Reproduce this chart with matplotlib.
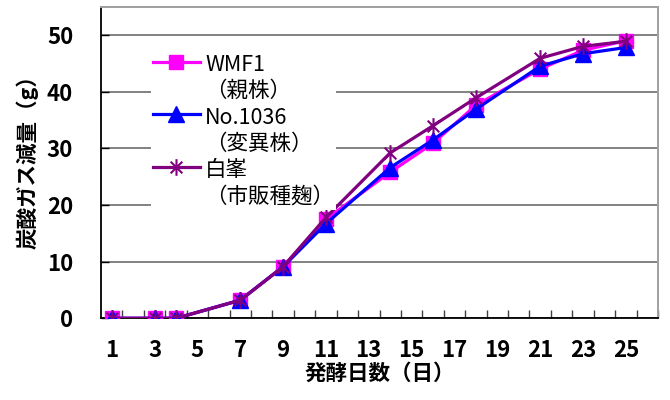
import matplotlib
matplotlib.use("Agg")
import matplotlib.pyplot as plt
from matplotlib.path import Path
from matplotlib.ticker import FixedLocator

plt.rcParams['font.family'] = ['Noto Sans CJK JP', 'DejaVu Sans']

# Fermentation days and CO2 weight loss (g) for each strain
days = [1, 3, 4, 7, 9, 11, 14, 16, 18, 21, 23, 25]
wmf1 = [0, 0, 0, 3.2, 9.1, 17.5, 25.8, 30.9, 37.6, 44.0, 47.3, 49.0]
no1036 = [0, 0, 0, 3.2, 9.1, 16.7, 26.6, 31.5, 36.9, 44.5, 46.7, 47.8]
hakuho = [0, 0, 0, 3.2, 9.1, 17.8, 29.2, 34.0, 38.9, 45.9, 48.0, 48.9]

labels = ["WMF1\n（親株）", "No.1036\n（変異株）", "白峯\n（市販種麹）"]
xtick_days = list(range(1, 26, 2))
yticks = [0, 10, 20, 30, 40, 50]

# asterisk-style marker: an X with a vertical bar
star = Path(
    [(-0.7, -0.7), (0.7, 0.7), (-0.7, 0.7), (0.7, -0.7), (0, -1), (0, 1)],
    [Path.MOVETO, Path.LINETO, Path.MOVETO, Path.LINETO, Path.MOVETO, Path.LINETO],
)

fig = plt.figure(figsize=(6.7, 4.0), dpi=100)
ax = fig.add_axes([101 / 670, 1 - 318.3 / 400, 557 / 670, 311.6 / 400])

ax.plot(days, wmf1, color='#FF00FF', lw=2.3, marker='s', ms=10.5,
        mec='#FF00FF', mfc='#FF00FF', label=labels[0], zorder=3)
ax.plot(days, no1036, color='#0000FF', lw=2.3, marker='^', ms=11,
        mec='#0000FF', mfc='#0000FF', label=labels[1], zorder=4)
ax.plot(days, hakuho, color='#800080', lw=2.3, marker=star, ms=12,
        mec='#800080', mew=1.5, label=labels[2], zorder=5)

ax.set_xlim(0.5, 26.5)
ax.set_ylim(0, 55)

ax.xaxis.set_major_locator(FixedLocator(xtick_days))
ax.xaxis.set_minor_locator(FixedLocator([d + 0.5 for d in range(1, 27)]))
ax.set_yticks(yticks)

ax.tick_params(axis='x', which='major', length=0, pad=15,
               labelsize=16)
ax.tick_params(axis='x', which='minor', direction='in', length=6,
               width=1.0, color='#404040')
ax.tick_params(axis='y', which='major', direction='in', length=6,
               width=1.0, pad=20, labelsize=16)
for lab in ax.get_xticklabels() + ax.get_yticklabels():
    lab.set_fontweight('bold')

ax.yaxis.grid(True, color='#606060', lw=1.1)
ax.set_axisbelow(True)

ax.spines['left'].set_color('black')
ax.spines['left'].set_linewidth(1.3)
ax.spines['bottom'].set_color('black')
ax.spines['bottom'].set_linewidth(1.3)
ax.spines['top'].set_color('#A0A0A0')
ax.spines['top'].set_linewidth(1.4)
ax.spines['right'].set_color('#A0A0A0')
ax.spines['right'].set_linewidth(1.4)

ax.set_xlabel('発酵日数（日）', fontsize=15.5, fontweight='bold', va='center')
ax.xaxis.set_label_coords(0.5, -0.177)
ax.set_ylabel('炭酸ガス減量（g）', fontsize=15.5, fontweight='bold', va='center')
ax.yaxis.set_label_coords(-0.132, 0.52)

leg = ax.legend(loc='upper left', bbox_to_anchor=(0.09, 0.855),
                frameon=True, fancybox=False, framealpha=1,
                facecolor='white', edgecolor='none',
                fontsize=15.5, handlelength=2.15, handletextpad=0.25,
                labelspacing=0.2, borderpad=0.1, borderaxespad=0)
leg.set_zorder(6)
for t in leg.get_texts():
    t.set_multialignment('left')
    t.set_linespacing(1.25)
# put each handle level with the first line of its label
for column in leg._legend_handle_box.get_children():
    for item in column.get_children():
        item.align = 'top'

fig.savefig('out.png', dpi=100)
